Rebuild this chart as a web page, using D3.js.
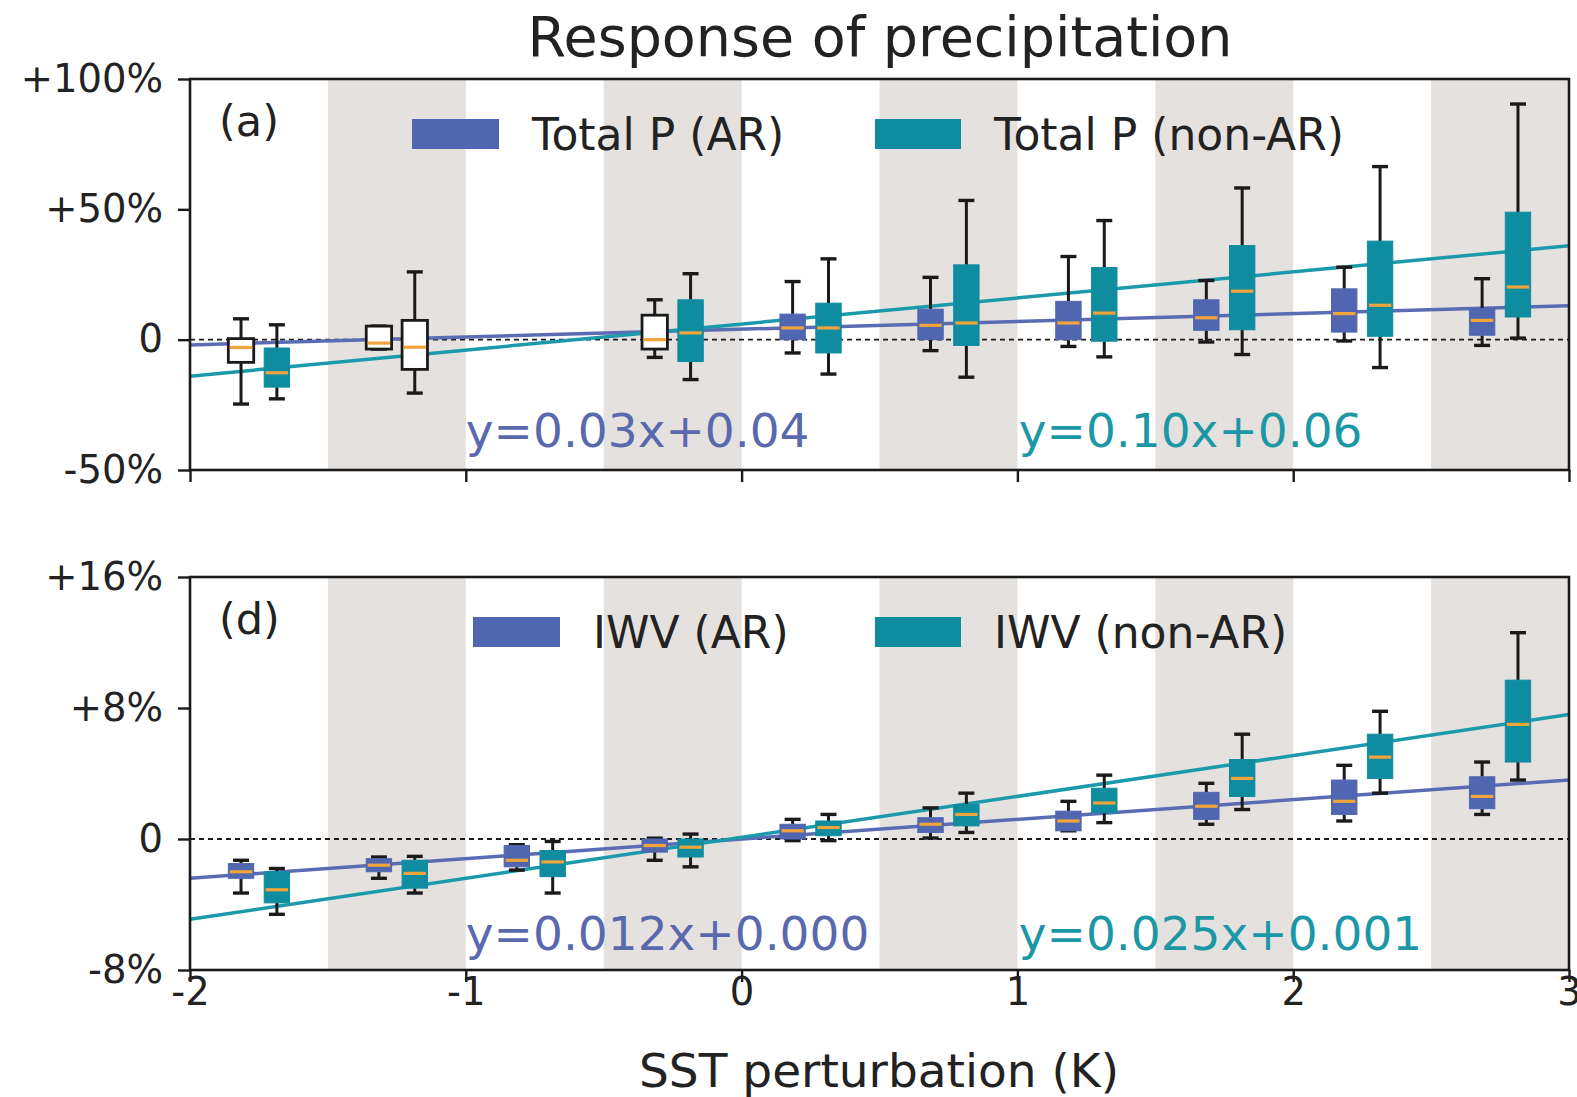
<html>
<head>
<meta charset="utf-8">
<title>Response of precipitation</title>
<script src="https://d3js.org/d3.v7.min.js"></script>
<style>
  body { margin: 0; background: #fff; }
  text { font-family: "DejaVu Sans", sans-serif; fill: #222; }
</style>
</head>
<body>
<svg width="1577" height="1097"></svg>
<script>
// ---- data (percent) ----
var sstBins = [-1.75, -1.25, -0.75, -0.25, 0.25, 0.75, 1.25, 1.75, 2.25, 2.75];
var xTicks = [-2, -1, 0, 1, 2, 3];
var xTickLabels = ["-2", "-1", "0", "1", "2", "3"];

// [lower whisker, q1, median, q3, upper whisker]
var precipAR = [
  [-24.7, -8.7, -3.0, 0.4, 8.0],
  [-3.6, -3.6, -1.3, 5.2, 5.2],
  null,
  [-6.8, -3.6, 0.0, 9.4, 15.3],
  [-5.1, 0.0, 4.5, 9.8, 22.3],
  [-4.2, 0.0, 5.5, 11.7, 23.9],
  [-2.6, 0.0, 6.4, 14.7, 31.9],
  [-0.9, 3.6, 8.4, 15.3, 22.7],
  [-0.5, 2.9, 10.0, 19.5, 27.8],
  [-2.2, 1.7, 7.4, 11.9, 23.4]
];
var precipNonAR = [
  [-22.7, -18.2, -12.7, -3.2, 5.7],
  [-20.5, -11.4, -2.9, 7.4, 26.0],
  null,
  [-15.3, -8.4, 2.6, 15.3, 25.3],
  [-13.2, -5.1, 4.5, 14.0, 31.0],
  [-14.4, -2.2, 6.4, 28.7, 53.4],
  [-6.6, -0.6, 10.2, 27.7, 45.7],
  [-5.7, 3.8, 18.6, 36.1, 58.2],
  [-10.7, 1.3, 13.2, 37.8, 66.4],
  [0.6, 8.7, 20.2, 48.9, 90.4]
];
var precipARHollow = [true, true, false, true, false, false, false, false, false, false];
var precipNonARHollow = [false, true, false, false, false, false, false, false, false, false];

var iwvAR = [
  [-3.3, -2.4, -2.0, -1.5, -1.3],
  [-2.4, -2.0, -1.6, -1.2, -1.1],
  [-1.9, -1.7, -1.3, -0.4, -0.35],
  [-1.3, -0.8, -0.4, 0.0, 0.05],
  [-0.1, 0.0, 0.5, 0.9, 1.2],
  [0.06, 0.4, 0.9, 1.3, 1.9],
  [0.5, 0.5, 1.1, 1.7, 2.3],
  [0.9, 1.2, 2.0, 2.85, 3.4],
  [1.1, 1.5, 2.3, 3.6, 4.5],
  [1.5, 1.85, 2.6, 3.8, 4.7]
];
var iwvNonAR = [
  [-4.6, -3.9, -3.1, -2.0, -1.8],
  [-3.3, -3.0, -2.1, -1.3, -1.06],
  [-3.3, -2.3, -1.4, -0.7, -0.15],
  [-1.7, -1.1, -0.5, 0.0, 0.3],
  [-0.1, 0.2, 0.7, 1.1, 1.5],
  [0.4, 0.8, 1.5, 2.1, 2.8],
  [1.0, 1.6, 2.2, 3.1, 3.9],
  [1.8, 2.6, 3.7, 4.85, 6.4],
  [2.8, 3.7, 5.0, 6.4, 7.8],
  [3.6, 4.7, 7.0, 9.7, 12.6]
];
var noHollow = [false, false, false, false, false, false, false, false, false, false];

// regression fits (fractions, as printed)
var precipFitAR = {slope: 0.03, intercept: 0.04};
var precipFitNonAR = {slope: 0.10, intercept: 0.06};
var iwvFitAR = {slope: 0.012, intercept: 0.000};
var iwvFitNonAR = {slope: 0.025, intercept: 0.001};

var precipTicks = [-50, 0, 50, 100];
var precipTickLabels = ["-50%", "0", "+50%", "+100%"];
var iwvTicks = [-8, 0, 8, 16];
var iwvTickLabels = ["-8%", "0", "+8%", "+16%"];

// ---- styling ----
var colAR = "#5066b0", colNonAR = "#0f8c9f";
var lineAR = "#5c6cb4", lineNonAR = "#1b9aab";
var colMedian = "#f0a43a", colShade = "#e5e1df", colInk = "#1a1a1a";

var svg = d3.select("svg");
svg.append("rect").attr("width", 1577).attr("height", 1097).attr("fill", "#fff");

var x = d3.scaleLinear().domain([-2, 3]).range([190, 1569]);
var boxW = x(0.092) - x(0), capW = x(0.058) - x(0), offset = 0.065;

svg.append("text").attr("x", 880).attr("y", 56).attr("text-anchor", "middle")
  .style("font-size", "55.5px").text("Response of precipitation");
svg.append("text").attr("x", 879).attr("y", 1087).attr("text-anchor", "middle")
  .style("font-size", "47px").text("SST perturbation (K)");

function panel(cfg) {
  var y = d3.scaleLinear().domain(cfg.domain).range([cfg.bottom, cfg.top]);
  var g = svg.append("g");
  var clipId = "clip" + cfg.id;
  g.append("clipPath").attr("id", clipId).append("rect")
    .attr("x", x(-2)).attr("y", cfg.top).attr("width", x(3) - x(-2)).attr("height", cfg.bottom - cfg.top);
  var inner = g.append("g").attr("clip-path", "url(#" + clipId + ")");

  // shaded bands
  d3.range(-1.5, 3, 1).forEach(function(b) {
    inner.append("rect").attr("x", x(b)).attr("y", cfg.top)
      .attr("width", x(b + 0.5) - x(b)).attr("height", cfg.bottom - cfg.top).attr("fill", colShade);
  });

  // zero line
  inner.append("line").attr("x1", x(-2)).attr("x2", x(3)).attr("y1", y(0)).attr("y2", y(0))
    .attr("stroke", colInk).attr("stroke-width", 1.8).attr("stroke-dasharray", "5,4");

  // fit lines
  [[cfg.fitAR, lineAR], [cfg.fitNonAR, lineNonAR]].forEach(function(f) {
    var line = d3.line().x(function(d) { return x(d); })
      .y(function(d) { return y(100 * (f[0].slope * d + f[0].intercept)); });
    inner.append("path").datum([-2, 3]).attr("d", line).attr("fill", "none")
      .attr("stroke", f[1]).attr("stroke-width", 3.5);
  });

  // boxes
  function drawBoxes(data, hollow, dx, color) {
    data.forEach(function(d, i) {
      if (!d) return;
      var cx = x(sstBins[i] + dx);
      var bg = inner.append("g");
      bg.append("line").attr("x1", cx).attr("x2", cx).attr("y1", y(d[0])).attr("y2", y(d[1]))
        .attr("stroke", colInk).attr("stroke-width", 3);
      bg.append("line").attr("x1", cx).attr("x2", cx).attr("y1", y(d[3])).attr("y2", y(d[4]))
        .attr("stroke", colInk).attr("stroke-width", 3);
      [d[0], d[4]].forEach(function(v) {
        bg.append("line").attr("x1", cx - capW / 2).attr("x2", cx + capW / 2).attr("y1", y(v)).attr("y2", y(v))
          .attr("stroke", colInk).attr("stroke-width", 3.4);
      });
      bg.append("rect").attr("x", cx - boxW / 2).attr("width", boxW)
        .attr("y", y(d[3])).attr("height", Math.max(1, y(d[1]) - y(d[3])))
        .attr("fill", hollow[i] ? "#fff" : color)
        .attr("stroke", hollow[i] ? colInk : color).attr("stroke-width", hollow[i] ? 2.8 : 1);
      bg.append("line").attr("x1", cx - boxW / 2 + 1.5).attr("x2", cx + boxW / 2 - 1.5)
        .attr("y1", y(d[2])).attr("y2", y(d[2])).attr("stroke", colMedian).attr("stroke-width", 3.2);
    });
  }
  drawBoxes(cfg.ar, cfg.arHollow, -offset, colAR);
  drawBoxes(cfg.nonAR, cfg.nonARHollow, offset, colNonAR);

  // equations
  g.append("text").attr("x", x(-1)).attr("y", y(cfg.eqY)).style("font-size", "47px")
    .style("fill", "#5a68ae").text(cfg.eqAR);
  g.append("text").attr("x", x(1.005)).attr("y", y(cfg.eqY)).style("font-size", "47px")
    .style("fill", "#1c97a6").text(cfg.eqNonAR);

  // legend
  g.append("rect").attr("x", cfg.legX1).attr("y", cfg.top + 40).attr("width", 87).attr("height", 30).attr("fill", colAR);
  g.append("text").attr("x", cfg.legX1 + 120).attr("y", cfg.top + 71).style("font-size", "44px").text(cfg.legAR);
  g.append("rect").attr("x", 875).attr("y", cfg.top + 40).attr("width", 86).attr("height", 30).attr("fill", colNonAR);
  g.append("text").attr("x", 994).attr("y", cfg.top + 71).style("font-size", "44px").text(cfg.legNonAR);

  // panel letter
  g.append("text").attr("x", 219).attr("y", cfg.top + 57).style("font-size", "43px").text(cfg.letter);

  // axes
  var yAxis = g.append("g").attr("transform", "translate(" + x(-2) + ",0)")
    .call(d3.axisLeft(y).tickValues(cfg.ticks).tickSize(12).tickPadding(15)
      .tickFormat(function(d, i) { return cfg.tickLabels[i]; }));
  yAxis.selectAll("text").style("font-size", "38.5px").attr("fill", "#222");
  var xAxis = g.append("g").attr("transform", "translate(0," + cfg.bottom + ")")
    .call(d3.axisBottom(x).tickValues(xTicks).tickSize(12).tickPadding(-4)
      .tickFormat(function(d, i) { return cfg.showX ? xTickLabels[i] : ""; }));
  xAxis.selectAll("text").style("font-size", "38.5px").attr("fill", "#222");
  [yAxis, xAxis].forEach(function(a) {
    a.select(".domain").remove();
    a.selectAll(".tick line").attr("stroke", colInk).attr("stroke-width", 2.4);
  });
  g.append("rect").attr("x", x(-2)).attr("y", cfg.top).attr("width", x(3) - x(-2))
    .attr("height", cfg.bottom - cfg.top).attr("fill", "none").attr("stroke", colInk).attr("stroke-width", 2.6);
}

panel({
  id: "a", domain: [-50, 100], top: 79, bottom: 470,
  ar: precipAR, nonAR: precipNonAR, arHollow: precipARHollow, nonARHollow: precipNonARHollow,
  fitAR: precipFitAR, fitNonAR: precipFitNonAR,
  eqAR: "y=0.03x+0.04", eqNonAR: "y=0.10x+0.06", eqY: -41,
  legAR: "Total P (AR)", legNonAR: "Total P (non-AR)", legX1: 412,
  letter: "(a)", ticks: precipTicks, tickLabels: precipTickLabels, showX: false
});
panel({
  id: "d", domain: [-8, 16], top: 577, bottom: 970,
  ar: iwvAR, nonAR: iwvNonAR, arHollow: noHollow, nonARHollow: noHollow,
  fitAR: iwvFitAR, fitNonAR: iwvFitNonAR,
  eqAR: "y=0.012x+0.000", eqNonAR: "y=0.025x+0.001", eqY: -6.8,
  legAR: "IWV (AR)", legNonAR: "IWV (non-AR)", legX1: 473,
  letter: "(d)", ticks: iwvTicks, tickLabels: iwvTickLabels, showX: true
});
</script>
</body>
</html>
